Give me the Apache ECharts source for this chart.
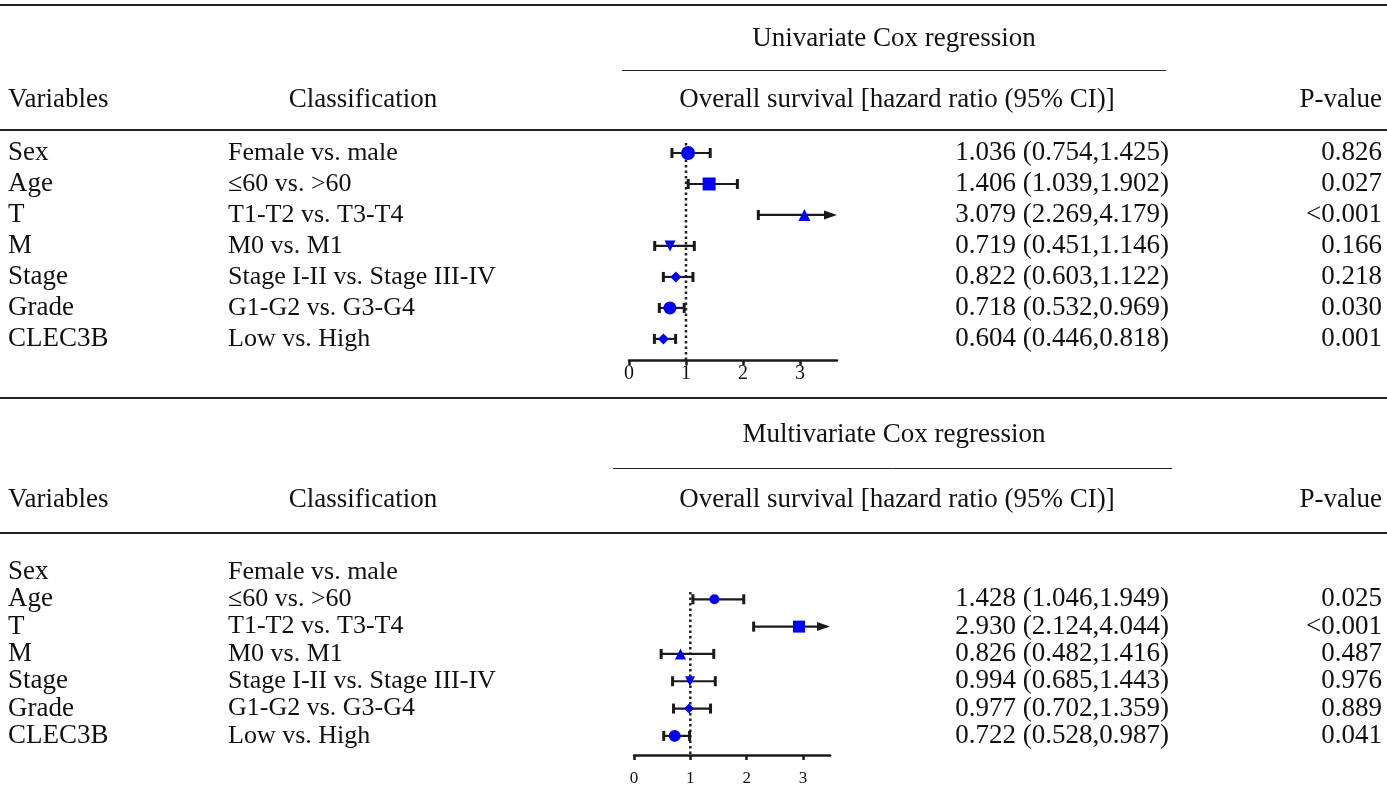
<!DOCTYPE html>
<html><head><meta charset="utf-8">
<script src="https://cdn.jsdelivr.net/npm/echarts@6/dist/echarts.min.js"></script>
<style>html,body{margin:0;padding:0;background:#fff}#c{width:1387px;height:800px}</style>
</head><body><div id="c"></div>
<script>
// ---------- data ----------
const variables = ['Sex','Age','T','M','Stage','Grade','CLEC3B'];
const classifications = ['Female vs. male','\u226460 vs. >60','T1-T2 vs. T3-T4','M0 vs. M1','Stage I-II vs. Stage III-IV','G1-G2 vs. G3-G4','Low vs. High'];
const uniHR    = [1.036, 1.406, 3.079, 0.719, 0.822, 0.718, 0.604];
const uniLower = [0.754, 1.039, 2.269, 0.451, 0.603, 0.532, 0.446];
const uniUpper = [1.425, 1.902, 4.179, 1.146, 1.122, 0.969, 0.818];
const uniP     = ['0.826','0.027','<0.001','0.166','0.218','0.030','0.001'];
const multiHR    = [null, 1.428, 2.930, 0.826, 0.994, 0.977, 0.722];
const multiLower = [null, 1.046, 2.124, 0.482, 0.685, 0.702, 0.528];
const multiUpper = [null, 1.949, 4.044, 1.416, 1.443, 1.359, 0.987];
const multiP     = ['', '0.025','<0.001','0.487','0.976','0.889','0.041'];
const axisTickValues = [0, 1, 2, 3];
const titles = ['Univariate Cox regression', 'Multivariate Cox regression'];
const headers = ['Variables', 'Classification', 'Overall survival [hazard ratio (95% CI)]', 'P-value'];

// ---------- styles ----------
const FONT = '"Liberation Serif","Times New Roman",Times,serif';
const TXT = '#111';
const DOWN_TRI = 'path://M0,0 L10,0 L5,9 Z';
const uniSymbols = ['circle','rect','triangle',DOWN_TRI,'diamond','circle','diamond'];
const uniSizes   = [14, 13, 12, 11, 11, 13, 11];
const multiSymbols = [null,'circle','rect','triangle',DOWN_TRI,'diamond','circle'];
const multiSizes   = [0, 10, 12, 11, 10, 10, 12];

const chart = echarts.init(document.getElementById('c'), null, {renderer:'canvas'});

function fmt(v){ return v.toFixed(3); }

function errSeries(g, lower, upper){
  const data = [];
  lower.forEach((l,i)=>{ if(l!=null) data.push([l, upper[i], i]); });
  return {
    type:'custom', xAxisIndex:g, yAxisIndex:g, data, z:3, silent:true,
    renderItem:(params, api)=>{
      const row = api.value(2);
      const p1 = api.coord([api.value(0), row]);
      const p2 = api.coord([api.value(1), row]);
      const cs = params.coordSys;
      const right = cs.x + cs.width;
      const clipped = p2[0] > right;
      const x2 = clipped ? right : p2[0];
      const y = p1[1];
      const st = {stroke:'#1a1a1a', lineWidth:2.2};
      const cap = {stroke:'#1a1a1a', lineWidth:3};
      const ch = [
        {type:'line', shape:{x1:p1[0], y1:y, x2:clipped ? x2-8 : x2, y2:y}, style:st},
        {type:'line', shape:{x1:p1[0], y1:y-5, x2:p1[0], y2:y+5}, style:cap}
      ];
      if(clipped){
        ch.push({type:'polygon', shape:{points:[[x2,y],[x2-13,y-4.5],[x2-13,y+4.5]]}, style:{fill:'#1a1a1a'}});
      } else {
        ch.push({type:'line', shape:{x1:x2, y1:y-5, x2:x2, y2:y+5}, style:cap});
      }
      return {type:'group', children:ch};
    }
  };
}

function ptSeries(g, hr, syms, sizes){
  const data = [];
  hr.forEach((v,i)=>{ if(v!=null) data.push({value:[v,i], symbol:syms[i], symbolSize:sizes[i]}); });
  return {type:'scatter', xAxisIndex:g, yAxisIndex:g, data, z:5, silent:true,
          itemStyle:{color:'#0000ff', opacity:1}};
}

function refSeries(g, y0, y1){
  return {type:'line', xAxisIndex:g, yAxisIndex:g, data:[[1,y0],[1,y1]], symbol:'none', silent:true, z:2,
          lineStyle:{type:[2.5,3], width:2.5, color:'#222'}};
}

function xAxisCfg(g, max, fs, margin){
  return {gridIndex:g, type:'value', min:0, max:max, interval:1,
    splitLine:{show:false},
    axisLine:{show:true, onZero:false, lineStyle:{color:'#1a1a1a', width:2.5}},
    axisTick:{show:true, customValues:axisTickValues, length:5, lineStyle:{color:'#1a1a1a', width:2.5}},
    axisLabel:{customValues:axisTickValues, fontFamily:FONT, fontSize:fs, color:'#111', margin:margin}
  };
}

chart.setOption({
  backgroundColor:'#fff',
  animation:false,
  grid:[
    {left:629, width:208, top:137.5, height:222.5},
    {left:634, width:196, top:558.3, height:196.7}
  ],
  xAxis:[ xAxisCfg(0, 3.65, 20, 4), xAxisCfg(1, 3.48, 17, 15) ],
  yAxis:[
    {gridIndex:0, type:'value', inverse:true, min:-0.5, max:6.68, show:false},
    {gridIndex:1, type:'value', inverse:true, min:-0.5, max:6.7, show:false}
  ],
  series:[
    refSeries(0, -0.32, 6.68),
    errSeries(0, uniLower, uniUpper),
    ptSeries(0, uniHR, uniSymbols, uniSizes),
    refSeries(1, 0.73, 6.7),
    errSeries(1, multiLower, multiUpper),
    ptSeries(1, multiHR, multiSymbols, multiSizes)
  ]
});

// ---------- table text & rules ----------
const g = [];
function txt(text, x, y, align, size){
  g.push({type:'text', x, y, silent:true, style:{text, fontFamily:FONT, fontSize:size||27, fill:TXT, align, verticalAlign:'middle'}});
}
function rule(x1, y, x2, w, c){
  g.push({type:'line', silent:true, shape:{x1, y1:y, x2, y2:y}, style:{stroke:c||'#222', lineWidth:w||2}});
}
const sections = [
  {grid:0, titleY:39, ulY:70.5, ul:[622,1166], headY:100, lineTop:5, lineHead:130, hr:uniHR, lo:uniLower, up:uniUpper, p:uniP},
  {grid:1, titleY:435, ulY:468.5, ul:[613,1172], headY:500, lineTop:398, lineHead:533, hr:multiHR, lo:multiLower, up:multiUpper, p:multiP}
];
sections.forEach((s, si)=>{
  rule(0, s.lineTop, 1387, 2);
  txt(titles[si], 894, s.titleY, 'center');
  rule(s.ul[0], s.ulY, s.ul[1], 1, '#222');
  txt(headers[0], 8, s.headY, 'left');
  txt(headers[1], 363, s.headY, 'center');
  txt(headers[2], 897, s.headY, 'center');
  txt(headers[3], 1382, s.headY, 'right');
  rule(0, s.lineHead, 1387, 2);
  variables.forEach((v,i)=>{
    const y = chart.convertToPixel({gridIndex:s.grid}, [0, i])[1];
    txt(v, 8, y, 'left');
    txt(classifications[i], 228, y, 'left', 26);
    if(s.hr[i]!=null) txt(fmt(s.hr[i])+' ('+fmt(s.lo[i])+','+fmt(s.up[i])+')', 1169, y, 'right');
    if(s.p[i]) txt(s.p[i], 1382, y, 'right');
  });
});
chart.setOption({graphic:{elements:g}});
</script>
</body></html>
